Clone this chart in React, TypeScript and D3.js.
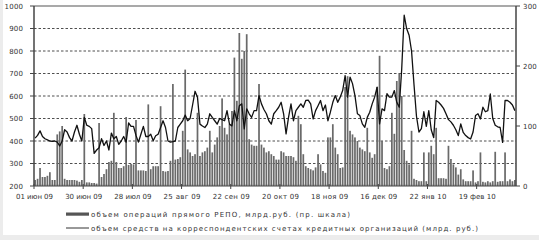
import React from "react";
import * as d3 from "d3";

// Trading days from 01 Jun 2009 (index 0) to early Mar 2010
const lineValues: number[] = [
  413, 425, 445, 420, 410, 405, 400, 398, 400, 395, 378, 400, 450, 440, 415, 400, 440, 470, 430, 400,
  505, 470, 465, 455, 345, 360, 370, 410, 380, 400, 360, 435, 410, 420, 385, 400, 420, 395, 480, 465,
  465, 425, 395, 430, 465, 420, 420, 430,
  401, 423, 430, 460, 490, 460, 400, 395, 397, 400, 460, 475, 490, 515, 490, 500, 560, 621, 594, 475,
  467, 460, 475, 521, 505, 490, 475, 500, 495, 490, 535, 475, 467, 535, 490, 557, 565, 454, 543, 521,
  505, 535, 535, 602, 565, 540, 521, 490, 475, 521, 535,
  550, 572, 521, 432, 505, 565, 490, 535, 550, 565, 550, 580, 582, 565, 498, 535, 557, 580, 535, 560,
  490, 528, 572, 602, 572, 595, 624, 691, 595, 684, 655, 602, 521, 513, 476, 461, 505, 528, 565, 595,
  639, 476, 543, 535, 610, 595, 595, 624, 572,
  550, 720, 959, 900, 870, 800, 650, 510, 440, 455, 530, 465, 535, 450, 415, 580, 572, 560, 545, 521,
  495, 485, 470, 450, 424, 476, 438, 424, 415, 409, 440, 513, 521, 498, 550, 530, 535, 609, 500, 470,
  463, 460, 394, 580, 580, 572, 560, 535,
];

const repoValues: number[] = [
  10, 12, 30, 15, 15, 17, 23, 10, 10, 86, 91, 100, 12, 10, 10, 10, 10, 9, 7, 10,
  120, 6, 6, 5, 5, 4, 105, 15, 20, 28, 40, 42, 122, 40, 30, 30, 33, 115, 35, 37,
  36, 110, 26, 26, 26, 25, 136, 28,
  33, 33, 33, 133, 25, 24, 25, 42, 170, 44, 45, 48, 92, 194, 61, 56, 50, 53, 122, 50,
  56, 58, 64, 92, 56, 69, 81, 100, 146, 97, 86, 103, 125, 214, 142, 255, 212, 225, 253, 78,
  69, 67, 67, 170, 69, 64, 56, 58, 53, 50, 44,
  44, 58, 56, 50, 50, 50, 48, 42, 117, 103, 53, 33, 30, 28, 26, 31, 53, 36, 25, 22,
  81, 81, 103, 64, 53, 30, 31, 165, 183, 92, 86, 81, 75, 64, 61, 58, 97, 56, 47, 53,
  165, 217, 75, 30, 28, 33, 122, 87, 175,
  187, 150, 60, 42, 36, 92, 12, 10, 8, 8, 56, 8, 56, 67, 53, 97, 13, 13, 13, 12,
  67, 45, 36, 31, 19, 28, 11, 8, 8, 8, 26, 6, 8, 56, 7, 6, 8, 6, 8, 57,
  7, 8, 8, 56, 8, 11, 8, 10,
];

const dayIndex: number[] = d3.range(lineValues.length);

const xTickDays: number[] = [0, 20, 40, 60, 80, 100, 120, 140, 160, 180];
const xTickLabels: string[] = [
  "01 июн 09", "30 июн 09", "28 июл 09", "25 авг 09", "22 сен 09",
  "20 окт 09", "18 ноя 09", "16 дек 09", "22 янв 10", "19 фев 10",
];
const leftTicks: number[] = [200, 300, 400, 500, 600, 700, 800, 900, 1000];
const rightTicks: number[] = [0, 100, 200, 300];
const legendLabels: string[] = [
  "объем операций прямого РЕПО, млрд.руб. (пр. шкала)",
  "объем средств на корреспондентских счетах кредитных организаций (млрд. руб.)",
];

const W = 539;
const H = 240;
const L = 34;
const R = 516;
const T = 6;
const B = 186;
const FONT = "'DejaVu Sans', sans-serif";
const TXT = "#333";

export default function App() {
  const x = d3.scaleBand<number>().domain(dayIndex).range([L, R]).paddingInner(0.3).paddingOuter(0.1);
  const step = (R - L) / dayIndex.length;
  const yL = d3.scaleLinear().domain([200, 1000]).range([B, T]);
  const yR = d3.scaleLinear().domain([0, 300]).range([B, T]);
  const line = d3
    .line<number>()
    .x((_, i) => (x(dayIndex[i]) as number) + x.bandwidth() / 2)
    .y((v) => yL(v));

  return (
    <svg
      width={W}
      height={H}
      style={{ position: "absolute", left: 0, top: 0, display: "block" }}
      fontFamily={FONT}
    >
      <rect x={0} y={0} width={W} height={H} fill="#ececec" />
      <rect x={3} y={0} width={W - 3} height={235} fill="#ffffff" />

      {/* gridlines */}
      {leftTicks
        .filter((t) => t > 200 && t < 1000)
        .map((t) => (
          <line
            key={"g" + t}
            x1={L}
            x2={R}
            y1={yL(t)}
            y2={yL(t)}
            stroke="#222"
            strokeWidth={0.8}
            strokeDasharray="2.5,2"
          />
        ))}

      {/* bars */}
      {repoValues.map((v, i) => (
        <rect
          key={"b" + i}
          x={x(dayIndex[i]) as number}
          y={yR(v)}
          width={x.bandwidth()}
          height={B - yR(v)}
          fill="#6a6a6a"
        />
      ))}

      {/* line */}
      <path d={line(lineValues) || ""} fill="none" stroke="#111" strokeWidth={1.3} strokeLinejoin="round" />

      {/* frame */}
      <line x1={L} x2={R} y1={T} y2={T} stroke="#555" strokeWidth={1.2} />
      <line x1={L} x2={R} y1={B} y2={B} stroke="#444" strokeWidth={1.2} />
      <line x1={L} x2={L} y1={T} y2={B} stroke="#444" strokeWidth={1.5} />
      <line x1={R} x2={R} y1={T} y2={B} stroke="#444" strokeWidth={1.5} />

      {/* x minor ticks */}
      {dayIndex.map((d) => (
        <line
          key={"mt" + d}
          x1={L + d * step}
          x2={L + d * step}
          y1={B - 1.5}
          y2={B}
          stroke="#666"
          strokeWidth={0.5}
        />
      ))}
      {/* x major ticks and labels */}
      {xTickDays.map((d, i) => (
        <g key={"xt" + d}>
          <line x1={L + d * step} x2={L + d * step} y1={B - 2} y2={B + 3} stroke="#444" strokeWidth={1} />
          <text
            x={L + d * step - 18}
            y={198.5}
            fontSize={7}
            fill={TXT}
            textLength={37}
            lengthAdjust="spacing"
          >
            {xTickLabels[i]}
          </text>
        </g>
      ))}

      {/* left axis */}
      {leftTicks.map((t) => (
        <g key={"lt" + t}>
          <line x1={L - 4} x2={L} y1={yL(t)} y2={yL(t)} stroke="#444" strokeWidth={1} />
          <text
            x={23}
            y={yL(t) + 2.5}
            fontSize={7}
            fill={TXT}
            textAnchor="end"
            textLength={String(t).length * 4.6}
            lengthAdjust="spacing"
          >
            {t}
          </text>
        </g>
      ))}

      {/* right axis */}
      {rightTicks.map((t) => (
        <g key={"rt" + t}>
          <line x1={R} x2={R + 4} y1={yR(t)} y2={yR(t)} stroke="#444" strokeWidth={1} />
          <text
            x={523}
            y={yR(t) + 2.5}
            fontSize={7}
            fill={TXT}
            textLength={String(t).length * 4.6}
            lengthAdjust="spacing"
          >
            {t}
          </text>
        </g>
      ))}

      {/* legend */}
      <rect x={66} y={212.5} width={23} height={3.2} fill="#555" />
      <text x={91} y={216.5} fontSize={7} fill={TXT} textLength={259} lengthAdjust="spacing">
        {legendLabels[0]}
      </text>
      <line x1={66} x2={89} y1={228} y2={228} stroke="#333" strokeWidth={1} />
      <text x={91} y={230.5} fontSize={7} fill={TXT} textLength={387} lengthAdjust="spacing">
        {legendLabels[1]}
      </text>
    </svg>
  );
}
